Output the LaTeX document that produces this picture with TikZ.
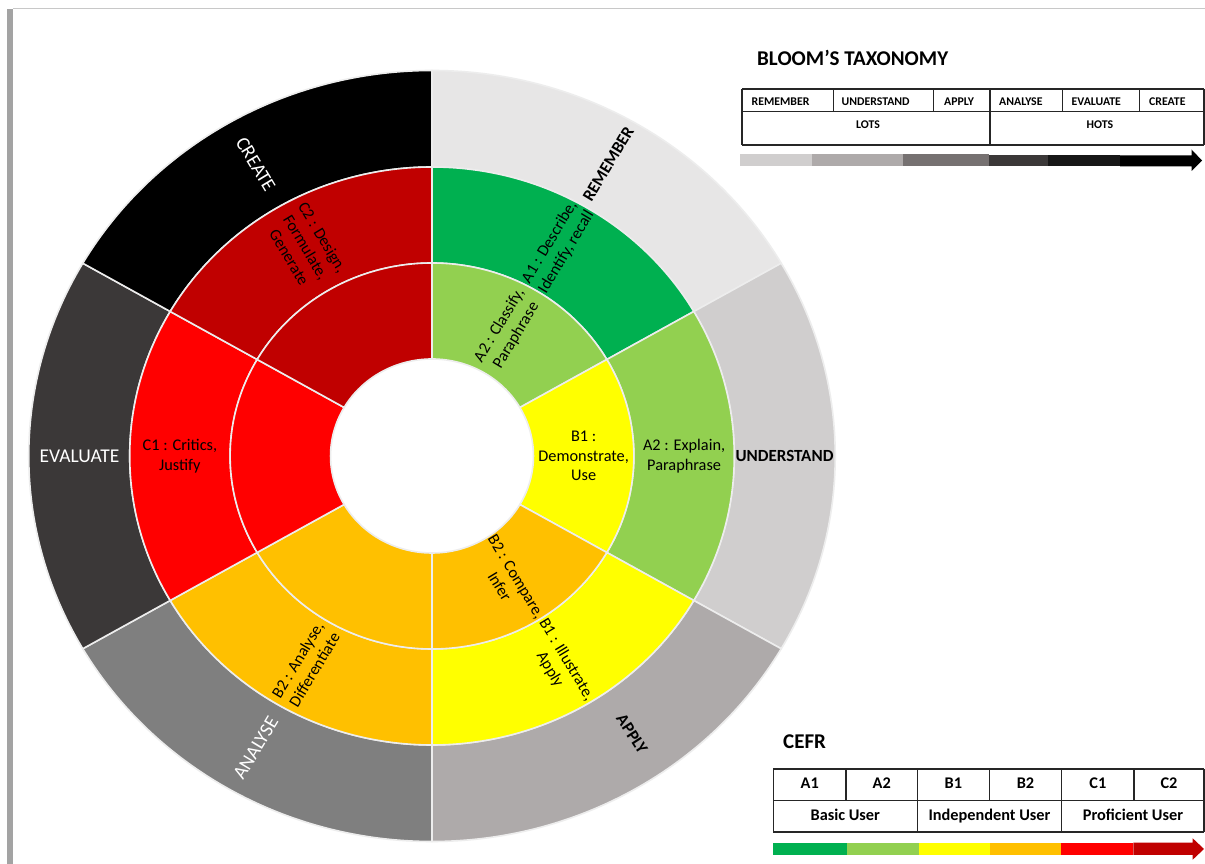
\documentclass[tikz,border=0pt]{standalone}
\usepackage{fontspec}
\setmainfont{Carlito}

% outer ring: Bloom levels
\definecolor{gRemember}{HTML}{E7E6E6}
\definecolor{gUnderstand}{HTML}{D0CECE}
\definecolor{gApply}{HTML}{AEAAAA}
\definecolor{gAnalyse}{HTML}{7F7F7F}
\definecolor{gEvaluate}{HTML}{3B3838}
\definecolor{gCreate}{HTML}{000000}
% CEFR levels
\definecolor{cAone}{HTML}{00B050}
\definecolor{cAtwo}{HTML}{92D050}
\definecolor{cBone}{HTML}{FFFF00}
\definecolor{cBtwo}{HTML}{FFC000}
\definecolor{cCone}{HTML}{FF0000}
\definecolor{cCtwo}{HTML}{C00000}
% bar and frame greys
\definecolor{barDark}{HTML}{767171}
\definecolor{barDeep}{HTML}{171717}
\definecolor{sepgrey}{HTML}{EDEDED}
\definecolor{framegrey}{HTML}{C8C8C8}
\definecolor{framebar}{HTML}{A3A3A3}

% annular sector: colour, start angle, end angle, inner radius, outer radius
\newcommand\ringsector[5]{%
  \filldraw[sectorline, fill=#1] (#2:#4) arc[start angle=#2, end angle=#3, radius=#4]
    -- (#3:#5) arc[start angle=#3, end angle=#2, radius=#5] -- cycle;}

\begin{document}
\begin{tikzpicture}[x=1pt,y=1pt,
  sectorline/.style={draw=sepgrey, line width=1.6pt, line join=round},
  ringtext/.style={font=\fontsize{16.3}{19.5}\selectfont, align=center, text=black, inner sep=0pt},
  outerbold/.style={font=\fontsize{17}{20}\selectfont\bfseries, text=black, inner sep=0pt},
  outerwhite/.style={font=\fontsize{19.5}{22}\selectfont, text=white, inner sep=0pt},
  gridline/.style={line width=1.1pt, draw=black!85},
  headcell/.style={font=\fontsize{11.8}{14}\selectfont\bfseries, anchor=base west, inner sep=0pt},
  groupcell/.style={font=\fontsize{11.8}{14}\selectfont\bfseries, anchor=base, inner sep=0pt},
  levelcell/.style={font=\fontsize{16.3}{19}\selectfont\bfseries, anchor=base, inner sep=0pt},
  heading/.style={font=\fontsize{21}{24}\selectfont\bfseries, anchor=base west, inner sep=0pt},
]
\useasboundingbox (0,0) rectangle (1205,864);
\fill[white] (0,0) rectangle (1205,864);

% page coordinates: origin top left, y pointing down
\begin{scope}[shift={(0,864)}, yscale=-1]

  % page frame
  \draw[framegrey, line width=1pt] (13,9) -- (1205,9);
  \fill[framebar] (7,9) rectangle (13,864);

  % ---------- the wheel ----------
  \begin{scope}[shift={(432,456)}, xscale=1.046, yscale=-1]
    % outer ring
    \ringsector{gRemember}{30}{90}{289}{385.5}
    \ringsector{gUnderstand}{-30}{30}{289}{385.5}
    \ringsector{gApply}{-90}{-30}{289}{385.5}
    \ringsector{gAnalyse}{-150}{-90}{289}{385.5}
    \ringsector{gEvaluate}{150}{210}{289}{385.5}
    \ringsector{gCreate}{90}{150}{289}{385.5}
    % middle ring
    \ringsector{cAone}{30}{90}{193}{289}
    \ringsector{cAtwo}{-30}{30}{193}{289}
    \ringsector{cBone}{-90}{-30}{193}{289}
    \ringsector{cBtwo}{-150}{-90}{193}{289}
    \ringsector{cCone}{150}{210}{193}{289}
    \ringsector{cCtwo}{90}{150}{193}{289}
    % inner ring
    \ringsector{cAtwo}{30}{90}{97}{193}
    \ringsector{cBone}{-30}{30}{97}{193}
    \ringsector{cBtwo}{-90}{-30}{97}{193}
    \ringsector{cBtwo}{-150}{-90}{97}{193}
    \ringsector{cCone}{150}{210}{97}{193}
    \ringsector{cCtwo}{90}{150}{97}{193}

    % outer ring labels
    \node[outerbold, rotate=59] (lRemember) at (60:337) {REMEMBER};
    \node[outerbold] (lUnderstand) at (0:337) {UNDERSTAND};
    \node[outerbold, rotate=-57] (lApply) at (191.2,-278) {APPLY};
    \node[outerwhite, rotate=59] (lAnalyse) at (-120:337) {ANALYSE};
    \node[outerwhite] (lEvaluate) at (180:337) {EVALUATE};
    \node[outerwhite, rotate=-59] (lCreate) at (120:337) {CREATE};

    % middle ring labels
    \node[ringtext, rotate=59] (mAone) at (60:241) {A1 : Describe,\\Identify, recall};
    \node[ringtext] (mAtwo) at (0:241) {A2 : Explain,\\Paraphrase};
    \node[ringtext, rotate=-59] (mBone) at (-60:241) {B1 : Illustrate,\\Apply};
    \node[ringtext, rotate=59] (mBtwo) at (-120:241) {B2 : Analyse,\\Differentiate};
    \node[ringtext] (mCone) at (180:241) {C1 : Critics,\\Justify};
    \node[ringtext, rotate=-59] (mCtwo) at (120:241) {C2 : Design,\\Formulate,\\Generate};

    % inner ring labels
    \node[ringtext, rotate=59] (iAtwo) at (60:145) {A2 : Classify,\\Paraphrase};
    \node[ringtext] (iBone) at (0:145) {B1 :\\Demonstrate,\\Use};
    \node[ringtext, rotate=-59] (iBtwo) at (-60:145) {B2 : Compare,\\Infer};
  \end{scope}

  % ---------- Bloom's taxonomy key ----------
  \node[heading] (bloomTitle) at (757,66) {BLOOM’S TAXONOMY};

  \draw[gridline] (742,89) -- (1204,89);
  \draw[gridline] (742,111.7) -- (1204,111.7);
  \draw[gridline] (742,145) -- (1204,145);
  \foreach \bx in {742,833.3,933.3,990,1062.7,1139.3,1204}
    \draw[gridline] (\bx,89) -- (\bx,111.7);
  \foreach \bx in {742,990,1204}
    \draw[gridline] (\bx,111.7) -- (\bx,145);

  \node[headcell] (bRemember)   at (751.5,105.5) {REMEMBER};
  \node[headcell] (bUnderstand) at (841.5,105.5) {UNDERSTAND};
  \node[headcell] (bApply)      at (944,105.5)   {APPLY};
  \node[headcell] (bAnalyse)    at (999,105.5)   {ANALYSE};
  \node[headcell] (bEvaluate)   at (1071.5,105.5) {EVALUATE};
  \node[headcell] (bCreate)     at (1149,105.5)  {CREATE};
  \node[groupcell] (bLots) at (868,129) {LOTS};
  \node[groupcell] (bHots) at (1100,129) {HOTS};

  % grey scale progression bar
  \fill[gUnderstand] (740,154) rectangle (812,166);
  \fill[gApply]      (812,154) rectangle (903,166);
  \fill[barDark]     (903,154) rectangle (989,166);
  \fill[gEvaluate]   (989,155) rectangle (1048,166.5);
  \fill[barDeep]     (1048,155.5) rectangle (1120,166.5);
  \fill[black] (1120,155.5) -- (1191.5,155.5) -- (1191.5,149.5) -- (1202,160.5)
    -- (1191.5,171) -- (1191.5,166.5) -- (1120,166.5) -- cycle;

  % ---------- CEFR key ----------
  \node[heading] (cefrTitle) at (783,748.5) {CEFR};

  \draw[gridline] (773.3,769) -- (1204,769);
  \draw[gridline] (773.3,800.3) -- (1204,800.3);
  \draw[gridline] (773.3,832) -- (1204,832);
  \foreach \cx in {773.3,846,917.3,989.3,1061.7,1134,1204}
    \draw[gridline] (\cx,769) -- (\cx,800.3);
  \foreach \cx in {773.3,917.3,1061.7,1204}
    \draw[gridline] (\cx,800.3) -- (\cx,832);

  \node[levelcell] (cAoneCell) at (809.7,789)  {A1};
  \node[levelcell] (cAtwoCell) at (881.7,789)  {A2};
  \node[levelcell] (cBoneCell) at (953.3,789)  {B1};
  \node[levelcell] (cBtwoCell) at (1025.5,789) {B2};
  \node[levelcell] (cConeCell) at (1097.9,789) {C1};
  \node[levelcell] (cCtwoCell) at (1169,789)   {C2};
  \node[levelcell] (cBasic)       at (845.3,821)  {Basic User};
  \node[levelcell] (cIndependent) at (989.5,821)  {Independent User};
  \node[levelcell] (cProficient)  at (1133,821)   {Proficient User};

  % colour progression bar
  \fill[cAone] (773.3,842.7) rectangle (846.7,855);
  \fill[cAtwo] (846.7,842.7) rectangle (919,855);
  \fill[cBone] (919,842.7) rectangle (990,855);
  \fill[cBtwo] (990,842.7) rectangle (1061,855);
  \fill[cCone] (1061,842.7) rectangle (1133.3,855);
  \fill[cCtwo] (1133.3,842.7) -- (1192.7,842.7) -- (1192.7,838.3) -- (1204,849)
    -- (1192.7,859.7) -- (1192.7,855) -- (1133.3,855) -- cycle;
\end{scope}
\end{tikzpicture}
\end{document}
